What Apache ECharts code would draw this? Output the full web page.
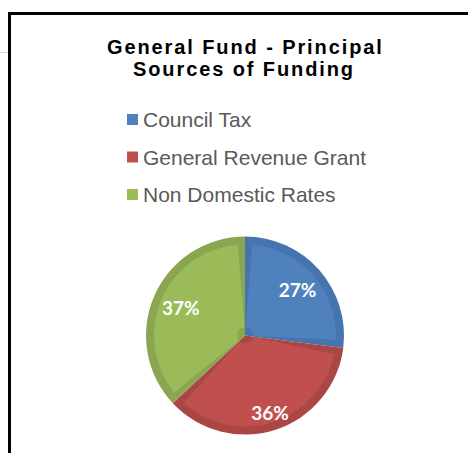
<!DOCTYPE html>
<html>
<head>
<meta charset="utf-8">
<script src="https://cdn.jsdelivr.net/npm/echarts@6/dist/echarts.min.js"></script>
<style>
  html, body { margin: 0; padding: 0; background: #fff; }
  #chart { width: 468px; height: 453px; }
  #chart text[style*="bold 20px"] { letter-spacing: 1.9px; }
</style>
</head>
<body>
<div id="chart"></div>
<script>
const titleLines = ['General Fund - Principal', 'Sources of Funding'];
const categories = ['Council Tax', 'General Revenue Grant', 'Non Domestic Rates'];
const values = [27, 36, 37];
const lightColors = ['#4F81BD', '#C0504D', '#9BBB59'];
const darkColors = ['#4674AE', '#AA4744', '#8AA651'];

const chart = echarts.init(document.getElementById('chart'), null, { renderer: 'svg' });

function items(colors, labelShow) {
  return categories.map((name, i) => ({
    name: name,
    value: values[i],
    itemStyle: { color: colors ? colors[i] : 'rgba(0,0,0,0)' },
    label: labelShow ? { show: labelShow[i] } : undefined
  }));
}

const center = [245, 335.5];
const labelStyle = {
  position: 'inside',
  formatter: '{c}%',
  color: '#ffffff',
  fontFamily: 'Lato',
  fontWeight: 'bold',
  fontSize: 19
};
const titleFont = 'bold 20px "Liberation Sans", Arial, sans-serif';

chart.setOption({
  backgroundColor: '#ffffff',
  animation: false,
  legend: {
    orient: 'vertical',
    left: 127,
    top: 109,
    padding: 0,
    icon: 'rect',
    itemWidth: 11,
    itemHeight: 11,
    itemGap: 16.5,
    selectedMode: false,
    data: categories.map((name, i) => ({ name: name, itemStyle: { color: lightColors[i] } })),
    textStyle: { fontFamily: 'Arial', fontSize: 21, color: '#595959' }
  },
  graphic: [
    { type: 'line', silent: true, shape: { x1: 0, y1: 52.5, x2: 8, y2: 52.5 }, style: { stroke: '#dcdcdc', lineWidth: 1 } },
    { type: 'rect', silent: true, shape: { x: 9.5, y: 13.5, width: 520, height: 520 }, style: { fill: 'none', stroke: '#000000', lineWidth: 3 } },
    { type: 'text', silent: true, x: 107, y: 46.5, style: { text: titleLines[0], font: titleFont, fill: '#000000', textAlign: 'left', textVerticalAlign: 'middle' } },
    { type: 'text', silent: true, x: 133, y: 69, style: { text: titleLines[1], font: titleFont, fill: '#000000', textAlign: 'left', textVerticalAlign: 'middle' } }
  ],
  series: [
    {
      type: 'pie', center: center, radius: 99, startAngle: 90, clockwise: true,
      silent: true, label: { show: false }, labelLine: { show: false },
      data: items(darkColors, null)
    },
    {
      type: 'pie', center: center, radius: [8, 91], startAngle: 90, clockwise: true,
      padAngle: 9, silent: true, label: { show: false }, labelLine: { show: false },
      data: items(lightColors, null)
    },
    {
      type: 'pie', center: center, radius: [35, 99], startAngle: 90, clockwise: true,
      silent: true, avoidLabelOverlap: false, label: Object.assign({ show: true }, labelStyle),
      labelLine: { show: false },
      data: items(null, [true, false, true])
    },
    {
      type: 'pie', center: center, radius: [57, 99], startAngle: 90, clockwise: true,
      silent: true, avoidLabelOverlap: false, label: Object.assign({ show: true }, labelStyle),
      labelLine: { show: false },
      data: items(null, [false, true, false])
    }
  ]
});
</script>
</body>
</html>
